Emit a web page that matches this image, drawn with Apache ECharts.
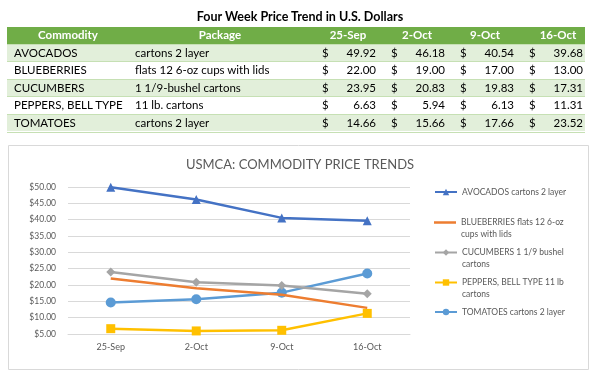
<!DOCTYPE html>
<html><head><meta charset="utf-8">
<script src="https://cdn.jsdelivr.net/npm/echarts@6/dist/echarts.min.js"></script>
<style>
html,body{margin:0;padding:0;background:#fff;}
#chart{position:absolute;left:0;top:0;width:600px;height:376px;}
#table{position:absolute;left:0;top:0;width:600px;height:140px;font-family:Lato,'Open Sans',sans-serif;}
.t{position:absolute;white-space:nowrap;font-size:11.5px;color:#000;}
.bg{position:absolute;}
</style></head><body>
<div id="chart"></div>
<div id="table"></div>
<script>
// ---- data ----
const tableTitle = 'Four Week Price Trend in U.S. Dollars';
const headers = ['Commodity', 'Package', '25-Sep', '2-Oct', '9-Oct', '16-Oct'];
const commodities = ['AVOCADOS', 'BLUEBERRIES', 'CUCUMBERS', 'PEPPERS, BELL TYPE', 'TOMATOES'];
const packages = ['cartons 2 layer', 'flats 12 6-oz cups with lids', '1 1/9-bushel cartons', '11 lb. cartons', 'cartons 2 layer'];
const weeks = ['25-Sep', '2-Oct', '9-Oct', '16-Oct'];
const avocados = [49.92, 46.18, 40.54, 39.68];
const blueberries = [22.00, 19.00, 17.00, 13.00];
const cucumbers = [23.95, 20.83, 19.83, 17.31];
const peppers = [6.63, 5.94, 6.13, 11.31];
const tomatoes = [14.66, 15.66, 17.66, 23.52];
const chartTitle = 'USMCA: COMMODITY PRICE TRENDS';
const legendNames = ['AVOCADOS cartons 2 layer', 'BLUEBERRIES flats 12 6-oz\ncups with lids', 'CUCUMBERS 1 1/9 bushel\ncartons', 'PEPPERS, BELL TYPE 11 lb\ncartons', 'TOMATOES cartons 2 layer'];
const yMin = 5, yMax = 50, yStep = 5;

// ---- table (HTML) ----
const seriesValues = [avocados, blueberries, cucumbers, peppers, tomatoes];
const tbl = document.getElementById('table');
function add(cls, css, text) {
  const d = document.createElement('div');
  d.className = cls;
  Object.assign(d.style, css);
  if (text !== undefined) d.textContent = text;
  tbl.appendChild(d);
  return d;
}
const L = 7, R = 585, headTop = 27, headH = 16.5, rowH = 17.6;
add('t', {left: '0px', width: '600px', textAlign: 'center', top: '9px', fontWeight: 'bold', fontSize: '12.5px'}, tableTitle);
add('bg', {left: L + 'px', top: headTop + 'px', width: (R - L) + 'px', height: headH + 'px', background: '#70AD47'});
const headCenters = [68, 220, 348, 417, 485, 558];
headers.forEach((h, i) => {
  add('t', {left: (headCenters[i] - 50) + 'px', width: '100px', textAlign: 'center', top: headTop + 'px', lineHeight: headH + 'px', color: '#fff', fontWeight: 'bold'}, h);
});
const dollarX = [322, 391, 460, 529];
const valRight = [376, 445, 514, 583];
commodities.forEach((c, r) => {
  const top = headTop + headH + r * rowH;
  add('bg', {left: L + 'px', top: top + 'px', width: (R - L) + 'px', height: rowH + 'px', background: r % 2 === 0 ? '#E2EFDA' : '#fff', borderTop: '1px solid #C6E0B4', boxSizing: 'border-box'});
  const lh = rowH + 'px';
  add('t', {left: '14px', top: top + 'px', lineHeight: lh}, c);
  add('t', {left: '135px', top: top + 'px', lineHeight: lh}, packages[r]);
  weeks.forEach((w, k) => {
    add('t', {left: dollarX[k] + 'px', top: top + 'px', lineHeight: lh}, '$');
    add('t', {left: (valRight[k] - 60) + 'px', width: '60px', textAlign: 'right', top: top + 'px', lineHeight: lh}, seriesValues[r][k].toFixed(2));
  });
});
add('bg', {left: L + 'px', top: (headTop + headH + 5 * rowH) + 'px', width: (R - L) + 'px', height: '1px', background: '#C6E0B4'});

// ---- chart ----
const chart = echarts.init(document.getElementById('chart'), null, {renderer: 'canvas'});
const colors = ['#4472C4', '#ED7D31', '#A5A5A5', '#FFC000', '#5B9BD5'];
const symbols = ['triangle', 'none', 'diamond', 'rect', 'circle'];
const symbolSizes = [9, 0, 9, 9, 10];
const font = 'Lato, "Open Sans", sans-serif';
const series = seriesValues.map((vals, i) => ({
  name: legendNames[i],
  type: 'line',
  data: vals,
  symbol: symbols[i],
  symbolSize: symbolSizes[i],
  showSymbol: symbols[i] !== 'none',
  lineStyle: {width: 2.5, color: colors[i]},
  itemStyle: {color: colors[i]},
  animation: false,
  z: 10 - i
}));
const legendCenters = [192, 222.5, 252.5, 282.5, 312];
const LH = 11.5;
const legends = legendNames.map((n, i) => {
  const twoLine = n.indexOf('\n') >= 0;
  const plain = symbols[i] === 'none';
  return {
    data: plain ? [{name: n, icon: 'rect'}] : [n],
    orient: 'vertical',
    left: 434,
    top: legendCenters[i] - (twoLine ? 1.5 * LH : 0.5 * LH),
    padding: 0,
    itemWidth: 22,
    itemHeight: plain ? 2.5 : 8,
    selectedMode: false,
    formatter: twoLine ? (name => '\n' + name) : (name => name),
    textStyle: {fontFamily: font, fontSize: 8.5, color: '#595959', lineHeight: LH}
  };
});
chart.setOption({
  backgroundColor: 'transparent',
  color: colors,
  textStyle: {fontFamily: font},
  title: {text: chartTitle, left: 'center', top: 153, textStyle: {fontFamily: font, fontSize: 13, fontWeight: 'normal', color: '#595959'}},
  graphic: [{type: 'rect', shape: {x: 8.5, y: 145.5, width: 580, height: 224}, style: {fill: 'none', stroke: '#D9D9D9', lineWidth: 1}, silent: true, z: -1}],
  legend: legends,
  grid: {left: 68, right: 190, top: 187, bottom: 42, containLabel: false},
  xAxis: {
    type: 'category', data: weeks, boundaryGap: true,
    axisLine: {lineStyle: {color: '#D9D9D9', width: 1}},
    axisTick: {show: false},
    axisLabel: {color: '#595959', fontSize: 9, margin: 9, fontFamily: font}
  },
  yAxis: {
    type: 'value', min: yMin, max: yMax, interval: yStep,
    axisLine: {show: false}, axisTick: {show: false},
    splitLine: {lineStyle: {color: '#D9D9D9', width: 1}},
    axisLabel: {color: '#595959', fontSize: 8.5, margin: 12, fontFamily: font, formatter: v => '$' + v.toFixed(2)}
  },
  series: series
});
</script>
</body></html>
